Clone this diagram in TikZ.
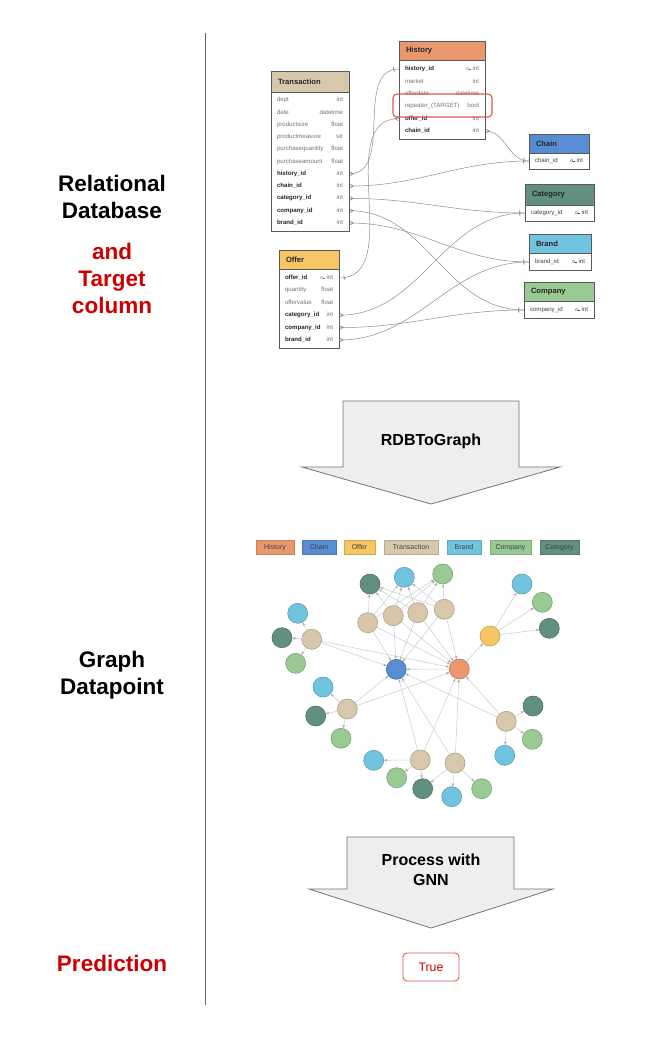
\documentclass[tikz,border=0pt]{standalone}
\usepackage{fontspec}
\setmainfont{Liberation Sans}
\usetikzlibrary{arrows.meta, positioning, backgrounds, decorations.markings}
\definecolor{HistoryCol}{RGB}{233,152,110}
\definecolor{ChainCol}{RGB}{88,141,212}
\definecolor{OfferCol}{RGB}{246,198,100}
\definecolor{TransCol}{RGB}{215,200,172}
\definecolor{BrandCol}{RGB}{113,196,224}
\definecolor{CompanyCol}{RGB}{153,202,147}
\definecolor{CategoryCol}{RGB}{98,144,127}
\definecolor{TargetRed}{RGB}{204,0,0}
\definecolor{BoxRed}{RGB}{226,84,84}
\definecolor{ArrowFill}{RGB}{238,238,238}
\newcommand{\keyname}[1]{{\color{black!85}\bfseries #1}}
\newcommand{\keyic}{\raisebox{0.5pt}{\tiny o}\kern-0.6pt\rule[1.6pt]{2.4pt}{0.35pt}\kern1.5pt}

\begin{document}
\begin{tikzpicture}[x=1pt, y=-1pt,
    sidelabel/.style={font=\fontsize{22.5}{27}\selectfont\bfseries, align=center},
    tblhead/.style={draw=black!65, line width=0.9pt, fill=#1, inner xsep=7pt,
                    inner ysep=0pt, align=left, text=black!85,
                    font=\fontsize{7.6}{8}\selectfont\bfseries},
    tblbody/.style={draw=black!65, line width=0.9pt, fill=white},
    dbrow/.style={inner xsep=6pt, inner ysep=0pt, text=black!55,
                  font=\fontsize{6.1}{7}\selectfont},
    fk/.style={draw=black!45, line width=0.5pt, postaction={decorate},
      decoration={markings,
        mark=at position 0.5pt with {\draw[black!55] (0,2pt) -- (3.5pt,0) -- (0,-2pt);},
        mark=at position -5pt with {\draw[black!55] (0,-2.5pt) -- (0,2.5pt);}}},
    bigarrow/.style={draw=black!55, line width=0.8pt, fill=ArrowFill},
    arrowlabel/.style={font=\fontsize{16}{20}\selectfont\bfseries, align=center},
    legendbox/.style={fill=#1, draw=#1!85!black, line width=0.8pt, minimum height=14pt,
                      inner sep=0pt, text height=5pt, text depth=0pt, text=black!75,
                      font=\fontsize{7}{8}\selectfont},
    gnode/.style={circle, inner sep=0pt, minimum size=20pt, line width=0.6pt,
                  fill=#1, draw=#1!80!black},
    gedge/.style={draw=black!18, line width=0.6pt,
                  -{Stealth[length=3.5pt, width=2.6pt, black!35]}}
  ]
  \useasboundingbox (0,0) rectangle (664,1063);

  % left column
  \draw[black!60, line width=0.9pt] (205,33) -- (205,1005);
  \node[sidelabel] (rdblabel) at (112,197) {Relational\\Database};
  \node[sidelabel, text=TargetRed] (targetlabel) at (112,278) {and\\Target\\column};
  \node[sidelabel] (graphlabel) at (112,675.5) {Graph\\Datapoint};
  \node[sidelabel, text=TargetRed] (predlabel) at (112,963) {Prediction};

  % tables
  \draw[tblbody] (271,92) rectangle (349,231);
  \node[tblhead=TransCol, text width=64pt, minimum height=21pt] (trans) at (310,81.5) {Transaction};
  \foreach \nm/\lb/\ty [count=\i from 0] in {dept/dept/int, date/date/datetime,
      psize/productsize/float, pmeas/productmeasure/str, pqty/purchasequantity/float,
      pamt/purchaseamount/float, hist/\keyname{history\_id}/int,
      chain/\keyname{chain\_id}/int, cat/\keyname{category\_id}/int,
      comp/\keyname{company\_id}/int, brand/\keyname{brand\_id}/int}
    \node[dbrow, text width=66pt] (tr-\nm) at (310,{100+12.3*\i}) {\lb\hfill\ty};

  \draw[tblbody] (399,60) rectangle (485,139);
  \node[tblhead=HistoryCol, text width=72pt, minimum height=19pt] (history) at (442,50.5) {History};
  \foreach \nm/\lb/\ty [count=\i from 0] in {hist/\keyname{history\_id}/\keyic int,
      market/market/int, odate/offerdate/datetime, target/repeater\_(TARGET)/bool,
      offer/\keyname{offer\_id}/int, chain/\keyname{chain\_id}/int}
    \node[dbrow, text width=74pt] (hi-\nm) at (442,{69+12.4*\i}) {\lb\hfill\ty};
  \draw[BoxRed, line width=1.1pt, rounded corners=4pt] (393,94) rectangle (492,117);

  \draw[tblbody] (279,269) rectangle (339,348);
  \node[tblhead=OfferCol, text width=46pt, minimum height=19pt] (offer) at (309,259.5) {Offer};
  \foreach \nm/\lb/\ty [count=\i from 0] in {offer/\keyname{offer\_id}/\keyic int,
      qty/quantity/float, oval/offervalue/float, cat/\keyname{category\_id}/int,
      comp/\keyname{company\_id}/int, brand/\keyname{brand\_id}/int}
    \node[dbrow, text width=48pt] (of-\nm) at (309,{278+12.4*\i}) {\lb\hfill\ty};

  \draw[tblbody] (529,153) rectangle (589,169);
  \node[tblhead=ChainCol, text width=46pt, minimum height=19pt] (chain) at (559,143.5) {Chain};
  \node[dbrow, text=black!75, text width=48pt] (ch-chain) at (559,161) {chain\_id\hfill\keyic int};

  \draw[tblbody] (525,205) rectangle (594,221);
  \node[tblhead=CategoryCol, text width=55pt, minimum height=21pt] (category) at (559.5,194.5) {Category};
  \node[dbrow, text=black!75, text width=57pt] (ca-cat) at (559.5,213) {category\_id\hfill\keyic int};

  \draw[tblbody] (529,253) rectangle (591,270);
  \node[tblhead=BrandCol, text width=48pt, minimum height=19pt] (brand) at (560,243.5) {Brand};
  \node[dbrow, text=black!75, text width=50pt] (br-brand) at (560,262) {brand\_id\hfill\keyic int};

  \draw[tblbody] (524,301) rectangle (594,318);
  \node[tblhead=CompanyCol, text width=56pt, minimum height=19pt] (company) at (559,291.5) {Company};
  \node[dbrow, text=black!75, text width=58pt] (co-comp) at (559,310) {company\_id\hfill\keyic int};

  % foreign keys
  \draw[fk] (tr-hist.east) to[out=0,in=180] (hi-hist.west);
  \draw[fk] (hi-offer.west) to[out=180,in=0] (of-offer.east);
  \draw[fk] (hi-chain.east) to[out=0,in=180] (ch-chain.west);
  \draw[fk] (tr-chain.east) to[out=0,in=180] (ch-chain.west);
  \draw[fk] (tr-cat.east) to[out=0,in=180] (ca-cat.west);
  \draw[fk] (tr-comp.east) to[out=0,in=180] (co-comp.west);
  \draw[fk] (tr-brand.east) to[out=0,in=180] (br-brand.west);
  \draw[fk] (of-cat.east) to[out=0,in=180] (ca-cat.west);
  \draw[fk] (of-comp.east) to[out=0,in=180] (co-comp.west);
  \draw[fk] (of-brand.east) to[out=0,in=180] (br-brand.west);

  % RDBToGraph
  \draw[bigarrow] (343,401) -- (519,401) -- (519,467) -- (560,467) -- (431,504)
    -- (302,467) -- (343,467) -- cycle;
  \node[arrowlabel] (rdbtograph) at (431,441) {RDBToGraph};

  % legend
  \node[legendbox=HistoryCol, minimum width=38pt] (lg-hist) at (275,547) {History};
  \node[legendbox=ChainCol, minimum width=34pt] (lg-chain) at (319,547) {Chain};
  \node[legendbox=OfferCol, minimum width=31pt] (lg-offer) at (359.5,547) {Offer};
  \node[legendbox=TransCol, minimum width=54pt] (lg-trans) at (411,547) {Transaction};
  \node[legendbox=BrandCol, minimum width=34pt] (lg-brand) at (464,547) {Brand};
  \node[legendbox=CompanyCol, minimum width=41pt] (lg-comp) at (510.5,547) {Company};
  \node[legendbox=CategoryCol, minimum width=39pt] (lg-cat) at (559.5,547) {Category};

  % graph datapoint
  \foreach \nm/\cl/\px/\py in {
      chn/ChainCol/396.3/669.3, his/HistoryCol/459.3/669, off/OfferCol/490/636,
      tc1/TransCol/367.7/622.7, tc2/TransCol/393.3/615.7, tc3/TransCol/417.7/612.7,
      tc4/TransCol/444.3/609.3, cat1/CategoryCol/370/584, br1/BrandCol/404.3/577.3,
      co1/CompanyCol/442.7/574,
      br2/BrandCol/522/584, co2/CompanyCol/542.3/602.3, cat2/CategoryCol/549.3/628.3,
      tl1/TransCol/311.7/639.3, br3/BrandCol/297.7/613.3, cat3/CategoryCol/282/637.7,
      co3/CompanyCol/295.7/663.3,
      tl2/TransCol/347.3/709, br4/BrandCol/323/687, cat4/CategoryCol/315.7/716,
      co4/CompanyCol/341/738.3,
      tr1/TransCol/506.3/721.3, cat5/CategoryCol/533/706, co5/CompanyCol/532.3/739.3,
      br5/BrandCol/504.7/755.3,
      tb1/TransCol/420.3/760, br6/BrandCol/373.7/760.3, co6/CompanyCol/396.7/777.7,
      cat6/CategoryCol/422.7/788.7,
      tb2/TransCol/455/763, br7/BrandCol/451.7/796.7, co7/CompanyCol/481.7/788.7}
    \node[gnode=\cl] (\nm) at (\px,\py) {};

  \begin{scope}[on background layer]
    \foreach \s in {tc1,tc2,tc3,tc4,tl1,tl2,tr1,tb1,tb2}
      \foreach \t in {chn,his}
        \draw[gedge] (\s) -- (\t);
    \foreach \s in {tc1,tc2,tc3,tc4}
      \foreach \t in {cat1,br1,co1}
        \draw[gedge] (\s) -- (\t);
    \foreach \s/\t in {his/chn, his/off, off/br2, off/co2, off/cat2,
        tl1/br3, tl1/cat3, tl1/co3, tl2/br4, tl2/cat4, tl2/co4,
        tr1/cat5, tr1/co5, tr1/br5, tb1/br6, tb1/co6, tb1/cat6,
        tb2/br7, tb2/co7, tb2/cat6}
      \draw[gedge] (\s) -- (\t);
  \end{scope}

  % GNN step
  \draw[bigarrow] (347,837) -- (514,837) -- (514,889) -- (553,889) -- (431,928)
    -- (309,889) -- (347,889) -- cycle;
  \node[arrowlabel] (gnn) at (431,870) {Process with\\GNN};

  \node[draw=BoxRed, line width=0.9pt, rounded corners=4pt, minimum width=56pt,
        minimum height=28pt, text=TargetRed, font=\fontsize{12.3}{14}\selectfont]
        (pred) at (431,967) {True};
\end{tikzpicture}
\end{document}
